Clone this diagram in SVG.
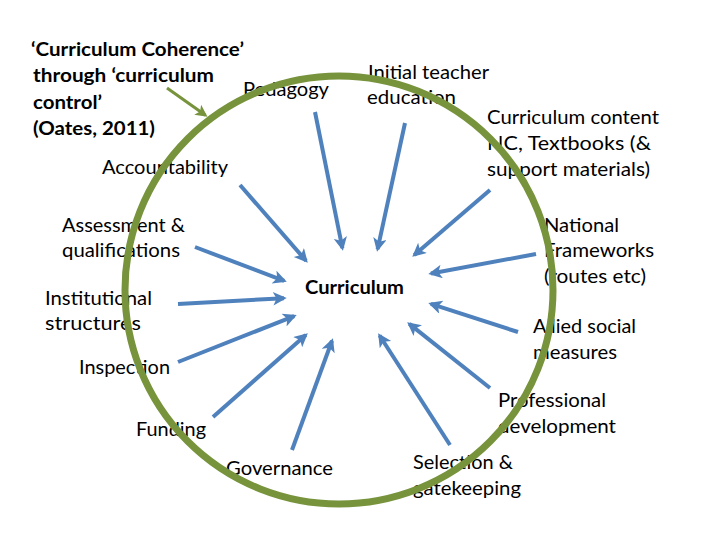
<svg xmlns="http://www.w3.org/2000/svg" width="720" height="540" viewBox="0 0 720 540">
<defs>
<style>
text{font-family:Lato,"Open Sans","Liberation Sans",sans-serif;font-size:19px;fill:#000}
.b{font-weight:bold}
.c{stroke:#4F81BD;stroke-width:4;fill:none;marker-end:url(#ah)}
.g{stroke:#77933C;stroke-width:3;fill:none;marker-end:url(#ag)}
</style>
<marker id="ah" viewBox="0 0 10 10" refX="8" refY="5" markerWidth="3.8" markerHeight="3.4" orient="auto" markerUnits="strokeWidth">
<path d="M0,0 L10,5 L0,10 L2.5,5 Z" fill="#4F81BD"/>
</marker>
<marker id="ag" viewBox="0 0 10 10" refX="8" refY="5" markerWidth="4.5" markerHeight="4" orient="auto" markerUnits="strokeWidth">
<path d="M0,0 L10,5 L0,10 L2.5,5 Z" fill="#77933C"/>
</marker>
</defs>
<rect width="720" height="540" fill="#fff"/>
<g id="title">
<text class="b" x="31" y="56" textLength="213" lengthAdjust="spacingAndGlyphs">‘Curriculum Coherence’</text>
<text class="b" x="33" y="82" textLength="181" lengthAdjust="spacingAndGlyphs">through ‘curriculum</text>
<text class="b" x="33" y="109" textLength="69" lengthAdjust="spacingAndGlyphs">control’</text>
<text class="b" x="33" y="135" textLength="122" lengthAdjust="spacingAndGlyphs">(Oates, 2011)</text>
</g>
<g id="curriculum"><text class="b" x="305" y="294" textLength="99" lengthAdjust="spacingAndGlyphs">Curriculum</text></g>
<g id="pedagogy"><text x="243" y="96" textLength="86" lengthAdjust="spacingAndGlyphs">Pedagogy</text></g>
<g id="ite"><text x="368" y="79" textLength="121" lengthAdjust="spacingAndGlyphs">Initial teacher</text><text x="367" y="104" textLength="89" lengthAdjust="spacingAndGlyphs">education</text></g>
<g id="content"><text x="487" y="124" textLength="172" lengthAdjust="spacingAndGlyphs">Curriculum content</text><text x="487" y="150" textLength="164" lengthAdjust="spacingAndGlyphs">NC, Textbooks (&amp;</text><text x="487" y="176" textLength="163" lengthAdjust="spacingAndGlyphs">support materials)</text></g>
<g id="accountability"><text x="102" y="174" textLength="126" lengthAdjust="spacingAndGlyphs">Accountability</text></g>
<g id="assessment"><text x="62" y="232" textLength="123" lengthAdjust="spacingAndGlyphs">Assessment &amp;</text><text x="62" y="257" textLength="118" lengthAdjust="spacingAndGlyphs">qualifications</text></g>
<g id="institutional"><text x="45" y="305" textLength="107" lengthAdjust="spacingAndGlyphs">Institutional</text><text x="45" y="330" textLength="96" lengthAdjust="spacingAndGlyphs">structures</text></g>
<g id="inspection"><text x="79" y="374" textLength="91" lengthAdjust="spacingAndGlyphs">Inspection</text></g>
<g id="funding"><text x="136" y="436" textLength="70" lengthAdjust="spacingAndGlyphs">Funding</text></g>
<g id="governance"><text x="226" y="475" textLength="107" lengthAdjust="spacingAndGlyphs">Governance</text></g>
<g id="selection"><text x="413" y="469" textLength="100" lengthAdjust="spacingAndGlyphs">Selection &amp;</text><text x="413" y="495" textLength="108" lengthAdjust="spacingAndGlyphs">gatekeeping</text></g>
<g id="professional"><text x="498" y="407" textLength="108" lengthAdjust="spacingAndGlyphs">Professional</text><text x="498" y="433" textLength="118" lengthAdjust="spacingAndGlyphs">development</text></g>
<g id="national"><text x="544" y="232" textLength="75" lengthAdjust="spacingAndGlyphs">National</text><text x="544" y="257" textLength="110" lengthAdjust="spacingAndGlyphs">Frameworks</text><text x="544" y="283" textLength="102" lengthAdjust="spacingAndGlyphs">(routes etc)</text></g>
<g id="allied"><text x="533" y="333" textLength="103" lengthAdjust="spacingAndGlyphs">Allied social</text><text x="533" y="359" textLength="84" lengthAdjust="spacingAndGlyphs">measures</text></g>
<circle id="coherence-ring" cx="339" cy="290" r="214" fill="none" stroke="#77933C" stroke-width="7"/>
<g id="connectors">
<line class="g" x1="167" y1="88" x2="205.5" y2="115.3"/>
<line class="c" x1="315" y1="112" x2="342.4" y2="248.1"/>
<line class="c" x1="405" y1="123" x2="377.6" y2="249.1"/>
<line class="c" x1="240" y1="185" x2="306" y2="260.7"/>
<line class="c" x1="490" y1="190" x2="414.3" y2="255"/>
<line class="c" x1="195" y1="247" x2="284.2" y2="280.9"/>
<line class="c" x1="178" y1="304" x2="284" y2="298.2"/>
<line class="c" x1="178" y1="362" x2="294.2" y2="316.1"/>
<line class="c" x1="213" y1="417" x2="305.8" y2="335"/>
<line class="c" x1="292" y1="450" x2="332" y2="340.8"/>
<line class="c" x1="450" y1="445" x2="379.6" y2="335.5"/>
<line class="c" x1="490" y1="388" x2="409.3" y2="323.9"/>
<line class="c" x1="518" y1="332" x2="430.9" y2="303.9"/>
<line class="c" x1="536" y1="254" x2="431" y2="273.5"/>
</g>
</svg>
